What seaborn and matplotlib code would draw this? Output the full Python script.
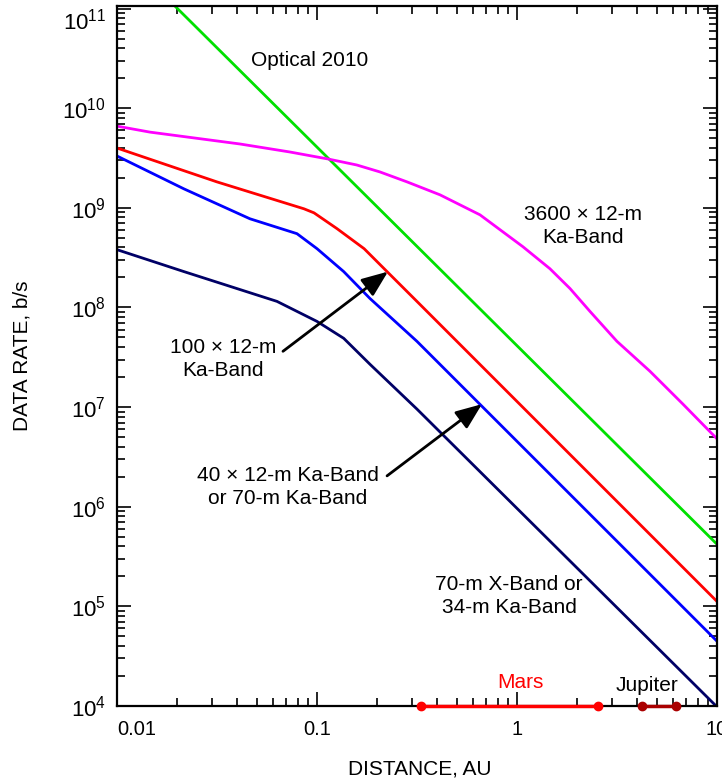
import numpy as np
import pandas as pd
import matplotlib
matplotlib.use('Agg')
import matplotlib.pyplot as plt
import matplotlib.ticker as mticker
import seaborn as sns

# distance (AU) and data rate (b/s)
optical_au = [0.01, 10]
optical_rate = [4.0e11, 4.2e5]

ka3600_au = [0.01, 0.0146, 0.0412, 0.0733, 0.1135, 0.158, 0.2065, 0.282, 0.412,
             0.653, 1.07, 1.46, 1.84, 2.32, 3.16, 4.62, 6.76, 10]
ka3600_rate = [6.6e9, 5.75e9, 4.37e9, 3.63e9, 3.09e9, 2.69e9, 2.29e9, 1.82e9, 1.35e9,
               8.5e8, 4.07e8, 2.45e8, 1.55e8, 9.1e7, 4.57e7, 2.29e7, 1.07e7, 4.8e6]

ka100_au = [0.01, 0.0316, 0.0861, 0.0966, 0.126, 0.172, 0.224, 0.316, 10]
ka100_rate = [3.98e9, 1.82e9, 9.77e8, 8.9e8, 6.17e8, 3.89e8, 2.29e8, 1.15e8, 1.12e5]

ka40_au = [0.01, 0.0216, 0.0462, 0.0794, 0.1, 0.136, 0.184, 0.316, 10]
ka40_rate = [3.31e9, 1.55e9, 7.76e8, 5.5e8, 3.89e8, 2.29e8, 1.23e8, 4.57e7, 4.47e4]

xband_au = [0.01, 0.0216, 0.0631, 0.1, 0.136, 0.184, 0.316, 10]
xband_rate = [3.8e8, 2.29e8, 1.15e8, 7.24e7, 4.9e7, 2.69e7, 9.55e6, 9.8e3]

mars_au = [0.33, 2.55]
jupiter_au = [4.2, 6.24]

xticks = [0.01, 0.1, 1, 10]
xtick_labels = ['0.01', '0.1', '1', '10']
yticks = [1e4, 1e5, 1e6, 1e7, 1e8, 1e9, 1e10, 1e11]
ytick_labels = ['$10^{%d}$' % e for e in range(4, 12)]

series = {
    'Optical 2010': (optical_au, optical_rate, '#00e000'),
    '3600x12-m Ka': (ka3600_au, ka3600_rate, '#ff00ff'),
    '100x12-m Ka': (ka100_au, ka100_rate, '#ff0000'),
    '40x12-m Ka': (ka40_au, ka40_rate, '#0000ff'),
    '70-m X': (xband_au, xband_rate, '#000066'),
}

rows = []
for name, (au, rate, _) in series.items():
    for a, r in zip(au, rate):
        rows.append({'link': name, 'au': a, 'rate': r})
df = pd.DataFrame(rows)
palette = {name: s[2] for name, s in series.items()}

sns.set_theme(style='ticks')
plt.rcParams['font.family'] = ['Liberation Sans', 'DejaVu Sans']
plt.rcParams['mathtext.default'] = 'regular'

fig = plt.figure(figsize=(7.22, 7.84), dpi=100)
ax = fig.add_axes([117 / 722, 78 / 784, 600 / 722, 700 / 784])

sns.lineplot(data=df, x='au', y='rate', hue='link', palette=palette, sort=False,
             estimator=None, legend=False, linewidth=2, ax=ax)

ax.set_xscale('log')
ax.set_yscale('log')
ax.set_xlim(0.01, 10)
ax.set_ylim(1e4, 1.06e11)

ax.set_xticks(xticks, xtick_labels)
ax.set_yticks(yticks, ytick_labels)
ax.xaxis.set_minor_locator(mticker.LogLocator(base=10, subs=np.arange(2, 10), numticks=100))
ax.xaxis.set_minor_formatter(mticker.NullFormatter())
ax.yaxis.set_minor_locator(mticker.LogLocator(base=10, subs=np.arange(2, 10), numticks=100))
ax.yaxis.set_minor_formatter(mticker.NullFormatter())

ax.tick_params(which='both', direction='in', top=True, right=True, color='black',
               labelcolor='black')
ax.tick_params(which='major', length=10, width=1.2)
ax.tick_params(which='minor', length=6, width=1.2)
ax.tick_params(axis='x', pad=10, labelsize=14.5)
ax.tick_params(axis='y', pad=8, labelsize=16)
for s in ax.spines.values():
    s.set_linewidth(1.6)
    s.set_color('black')
ax.get_xticklabels()[0].set_ha('left')
ax.get_yticklabels()[-1].set_va('top')

ax.set_xlabel('DISTANCE, AU', fontsize=15, color='black')
ax.set_ylabel('DATA RATE, b/s', fontsize=15, color='black')
ax.xaxis.set_label_coords(0.505, -0.077)
ax.yaxis.set_label_coords(-0.142, 0.5)

# planet distance ranges on the x-axis
ax.plot(mars_au, [1e4, 1e4], color='#ff0000', lw=2.5, marker='o', ms=6, clip_on=False, zorder=5)
ax.plot(jupiter_au, [1e4, 1e4], color='#aa0000', lw=2.5, marker='o', ms=6, clip_on=False, zorder=5)
ax.text(1.035, 1.74e4, 'Mars', color='#ff0000', fontsize=15, ha='center', va='center')
ax.text(4.47, 1.62e4, 'Jupiter', color='black', fontsize=15, ha='center', va='center')

txt = dict(fontsize=15, ha='center', va='center', color='black', linespacing=1.25)
ax.text(0.0923, 3.02e10, 'Optical 2010', **txt)
ax.text(2.14, 6.6e8, '3600 \u00d7 12-m\nKa-Band', **txt)
ax.text(0.912, 1.26e5, '70-m X-Band or\n34-m Ka-Band', **txt)

arrow = dict(arrowstyle='-|>,head_length=0.55,head_width=0.22', mutation_scale=29,
             color='black', lw=2, shrinkA=0, shrinkB=0)
ax.annotate('', xy=(0.2265, 2.29e8), xytext=(0.0676, 3.63e7), arrowprops=arrow)
ax.text(0.0339, 3.02e7, '100 \u00d7 12-m\nKa-Band', **txt)
ax.annotate('', xy=(0.668, 1.07e7), xytext=(0.224, 2.04e6), arrowprops=arrow)
ax.text(0.0716, 1.58e6, '40 \u00d7 12-m Ka-Band\nor 70-m Ka-Band', **txt)

fig.savefig('out.png', dpi=100)
